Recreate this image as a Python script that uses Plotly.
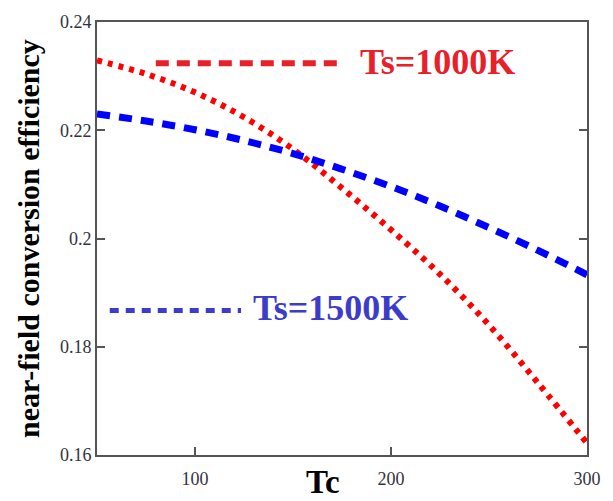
import plotly.graph_objects as go

# ---- data ----
tc = [50, 75, 100, 125, 150, 175, 200, 225, 250, 275, 300]
eff_ts1000 = [0.2329, 0.2304, 0.2270, 0.2224, 0.2165, 0.2093, 0.2016, 0.1934, 0.1840, 0.1733, 0.1622]
eff_ts1500 = [0.2230, 0.2217, 0.2201, 0.2181, 0.2157, 0.2128, 0.2096, 0.2060, 0.2020, 0.1978, 0.1933]

y_tickvals = [0.16, 0.18, 0.2, 0.22, 0.24]
y_ticktext = ["0.16", "0.18", "0.2", "0.22", "0.24"]
x_tickvals = [100, 200, 300]
x_ticktext = ["100", "200", "300"]

label_1000 = "Ts=1000K"
label_1500 = "Ts=1500K"
x_title = "Tc"
y_title = "near-field conversion efficiency"

SERIF = "Liberation Serif, Times New Roman, serif"
AXIS_COLOR = "#555555"

fig = go.Figure()
fig.add_trace(go.Scatter(
    x=tc, y=eff_ts1000, mode="lines", line_shape="spline",
    line=dict(color="#ff0000", width=6, dash="5px,6px"), showlegend=False))
fig.add_trace(go.Scatter(
    x=tc, y=eff_ts1500, mode="lines", line_shape="spline",
    line=dict(color="#0000ff", width=7, dash="13px,9px"), showlegend=False))

# legend keys (short dashed lines) and labels
fig.add_shape(type="line", xref="x", yref="y", x0=80, x1=173, y0=0.2324, y1=0.2324,
              line=dict(color="#e8202a", width=6, dash="13px,8px"))
fig.add_shape(type="line", xref="x", yref="y", x0=56.5, x1=123.5, y0=0.1867, y1=0.1867,
              line=dict(color="#3c3cd0", width=5, dash="9px,7px"))
fig.add_annotation(x=183, y=0.2327, xref="x", yref="y", text=label_1000, showarrow=False,
                   xanchor="left", yanchor="middle",
                   font=dict(family=SERIF, size=36, color="#e8202a", weight="bold"))
fig.add_annotation(x=128.5, y=0.1871, xref="x", yref="y", text=label_1500, showarrow=False,
                   xanchor="left", yanchor="middle",
                   font=dict(family=SERIF, size=36, color="#3c3cc8", weight="bold"))

# axis titles
fig.add_annotation(x=(328 - 97) / 500, y=-(486 - 458) / 441, xref="paper", yref="paper",
                   text=x_title, showarrow=False, xanchor="center", yanchor="middle",
                   font=dict(family=SERIF, size=33, color="#000000", weight="bold"))
fig.add_annotation(x=-(70) / 500, y=0.5, xref="paper", yref="paper",
                   text=y_title, showarrow=False, textangle=-90, xanchor="center", yanchor="middle",
                   font=dict(family=SERIF, size=30, color="#000000", weight="bold"))

fig.update_layout(
    width=613, height=501,
    margin=dict(l=97, r=16, t=17, b=43),
    paper_bgcolor="white", plot_bgcolor="white",
    showlegend=False,
    xaxis=dict(range=[50, 300], tickvals=x_tickvals, ticktext=x_ticktext,
               showgrid=False, zeroline=False, showline=True, linecolor=AXIS_COLOR, linewidth=2,
               mirror=True, ticks="inside", ticklen=8, tickwidth=2, tickcolor=AXIS_COLOR,
               ticklabelstandoff=6,
               tickfont=dict(family=SERIF, size=18, color="#333340")),
    yaxis=dict(range=[0.16, 0.24], tickvals=y_tickvals, ticktext=y_ticktext,
               showgrid=False, zeroline=False, showline=True, linecolor=AXIS_COLOR, linewidth=2,
               mirror="ticks", ticks="inside", ticklen=8, tickwidth=2, tickcolor=AXIS_COLOR,
               tickfont=dict(family=SERIF, size=18, color="#333340")),
)

fig.write_html("out.html")
